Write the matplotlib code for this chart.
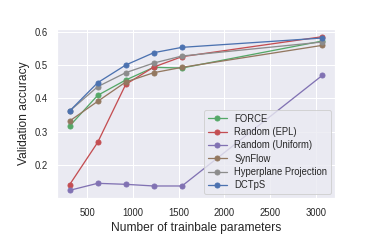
import matplotlib
matplotlib.use("Agg")
import matplotlib.pyplot as plt
import seaborn as sns

params = [307, 614, 921, 1228, 1536, 3072]
force = [0.317, 0.409, 0.455, 0.493, 0.491, 0.572]
random_epl = [0.141, 0.268, 0.442, 0.494, 0.525, 0.585]
random_uniform = [0.124, 0.145, 0.142, 0.137, 0.137, 0.469]
synflow = [0.332, 0.391, 0.449, 0.477, 0.493, 0.559]
hyperplane = [0.362, 0.435, 0.477, 0.506, 0.527, 0.569]
dctps = [0.362, 0.447, 0.500, 0.537, 0.553, 0.581]

series = [
    ("FORCE", force, "#55A868"),
    ("Random (EPL)", random_epl, "#C44E52"),
    ("Random (Uniform)", random_uniform, "#8172B3"),
    ("SynFlow", synflow, "#937860"),
    ("Hyperplane Projection", hyperplane, "#8C8C8C"),
    ("DCTpS", dctps, "#4C72B0"),
]

sns.set_theme(style="darkgrid", context="notebook")
plt.rcParams["font.family"] = ["Liberation Sans", "DejaVu Sans"]

dpi = 72
fig = plt.figure(figsize=(374 / dpi, 249 / dpi), dpi=dpi)
ax = fig.add_axes([57 / 374, 1 - 198 / 249, (335 - 57) / 374, (198 - 29) / 249])
for name, vals, col in series:
    ax.plot(params, vals, marker="o", color=col, label=name, markersize=5, linewidth=1.3)

ax.set_xlabel("Number of trainbale parameters")
ax.set_ylabel("Validation accuracy")
ax.set_yticks([0.2, 0.3, 0.4, 0.5, 0.6])
ax.set_xticks([500, 1000, 1500, 2000, 2500, 3000])
ax.tick_params(labelsize=9.5)
ax.legend(loc="lower right", fontsize=9.5, borderaxespad=0.4, labelspacing=0.35)
fig.savefig("out.png", dpi=dpi)
